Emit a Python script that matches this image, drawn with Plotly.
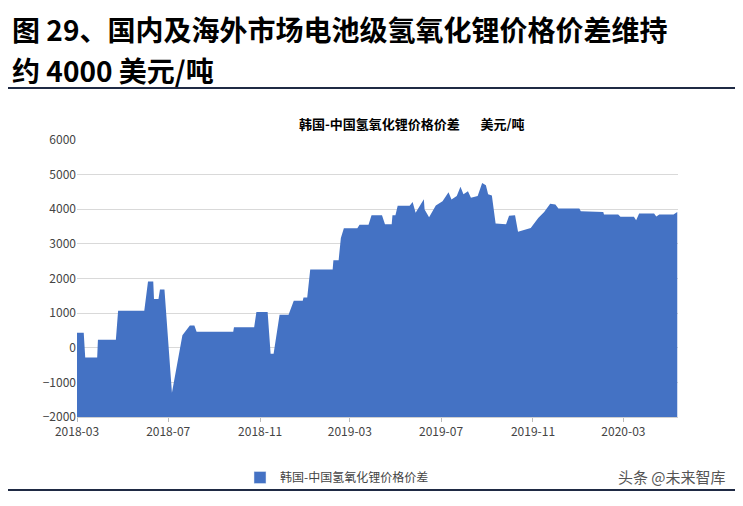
import plotly.graph_objects as go

dates = ["2018-03-01","2018-03-10","2018-03-12","2018-03-28","2018-03-29","2018-04-22","2018-04-25","2018-05-30",
"2018-06-04","2018-06-11","2018-06-12","2018-06-18","2018-06-20","2018-06-26","2018-07-06","2018-07-20",
"2018-07-30","2018-08-05","2018-08-08","2018-09-26","2018-09-27","2018-10-24","2018-10-27","2018-11-11",
"2018-11-15","2018-11-19","2018-11-27","2018-12-09","2018-12-16","2018-12-28","2018-12-29","2019-01-03",
"2019-01-07","2019-02-06","2019-02-07","2019-02-14","2019-02-17","2019-02-21","2019-03-11","2019-03-14",
"2019-03-26","2019-03-30","2019-04-13","2019-04-17","2019-04-26","2019-04-27","2019-05-01","2019-05-04",
"2019-05-20","2019-05-24","2019-05-28","2019-06-03","2019-06-08","2019-06-09","2019-06-15","2019-06-24",
"2019-07-03","2019-07-11","2019-07-15","2019-07-22","2019-07-27","2019-07-31","2019-08-06","2019-08-10",
"2019-08-19","2019-08-25","2019-08-30","2019-09-02","2019-09-07","2019-09-12","2019-09-26","2019-09-30",
"2019-10-08","2019-10-12","2019-10-20","2019-10-29","2019-11-08","2019-11-16","2019-11-24","2019-12-01",
"2019-12-05","2020-01-02","2020-01-04","2020-02-03","2020-02-04","2020-02-23","2020-02-26","2020-03-15",
"2020-03-18","2020-03-22","2020-04-11","2020-04-14","2020-04-18","2020-05-07","2020-05-12"]
spread = [430,430,-280,-280,230,230,1070,1070,
1910,1910,1410,1410,1680,1680,-1300,360,
640,640,460,460,590,590,1030,1030,
-170,-170,950,950,1360,1360,1450,1450,
2260,2260,2530,2530,3170,3450,3450,3550,
3550,3830,3830,3570,3570,3830,3830,4100,
4100,4210,3900,4130,4290,3990,3770,4110,
4230,4490,4280,4380,4650,4430,4520,4330,
4380,4760,4690,4430,4400,3590,3570,3810,
3830,3350,3400,3460,3750,3920,4160,4140,
4020,4020,3940,3920,3850,3850,3780,3780,
3680,3880,3880,3790,3850,3850,3920]

tick_vals = ["2018-03-01","2018-07-01","2018-11-01","2019-03-01","2019-07-01","2019-11-01","2020-03-01"]
tick_text = ["2018-03","2018-07","2018-11","2019-03","2019-07","2019-11","2020-03"]
series_name = "韩国-中国氢氧化锂价格价差"
blue = "#4472C4"
font = "Noto Sans CJK SC"

W, H = 601, 277
def px(x): return (x - 77) / W
def py(y): return 1 - (y - 140) / H

fig = go.Figure()
fig.add_trace(go.Scatter(x=dates, y=[-2000]*len(dates), mode="lines", line=dict(width=0),
                         showlegend=False, hoverinfo="skip"))
fig.add_trace(go.Scatter(x=dates, y=spread, mode="lines", line=dict(width=0, color=blue),
                         fill="tonexty", fillcolor=blue, showlegend=False))
fig.add_trace(go.Bar(x=[None], y=[None], name=series_name, marker_color=blue))

fig.update_layout(
    width=743, height=506, plot_bgcolor="white", paper_bgcolor="white",
    margin=dict(l=69, r=73, t=132, b=97),
    font=dict(family=font, size=12, color="#333"),
    xaxis=dict(type="date", range=["2018-03-01","2020-05-13"], tickvals=tick_vals, ticktext=tick_text,
               showgrid=False, ticks="outside", ticklen=4, tickcolor="#bbb", showline=True, linecolor="#d0d0d0",
               tickfont=dict(size=12, color="#444")),
    yaxis=dict(range=[-2000, 6000], dtick=1000, showgrid=True, gridcolor="#d9d9d9", zeroline=False,
               tickfont=dict(size=12, color="#444")),
    showlegend=True,
    legend=dict(orientation="h", x=px(240), y=py(463), xanchor="left", yanchor="top",
                bgcolor="rgba(0,0,0,0)", font=dict(size=12, color="#444")),
    bargap=0,
)
fig.add_annotation(text="<b>图 29、国内及海外市场电池级氢氧化锂价格价差维持</b>", xref="paper", yref="paper",
                   x=px(10), y=py(29), xanchor="left", yanchor="middle", showarrow=False,
                   font=dict(size=28, color="black", family=font))
fig.add_annotation(text="<b>约 4000 美元/吨</b>", xref="paper", yref="paper",
                   x=px(10), y=py(70), xanchor="left", yanchor="middle", showarrow=False,
                   font=dict(size=28, color="black", family=font))
fig.add_annotation(text="<b>韩国-中国氢氧化锂价格价差       美元/吨</b>", xref="paper", yref="paper",
                   x=px(412), y=py(123), xanchor="center", yanchor="middle", showarrow=False,
                   font=dict(size=13, color="black", family=font))
fig.add_annotation(text="头条 @未来智库", xref="paper", yref="paper",
                   x=px(728), y=py(476), xanchor="right", yanchor="middle", showarrow=False,
                   font=dict(size=15, color="#555", family=font))
for yy in (88, 490):
    fig.add_shape(type="line", xref="paper", yref="paper", x0=px(0), x1=px(735),
                  y0=py(yy), y1=py(yy), line=dict(color="#1f2a44", width=2))
fig.write_html("out.html")
